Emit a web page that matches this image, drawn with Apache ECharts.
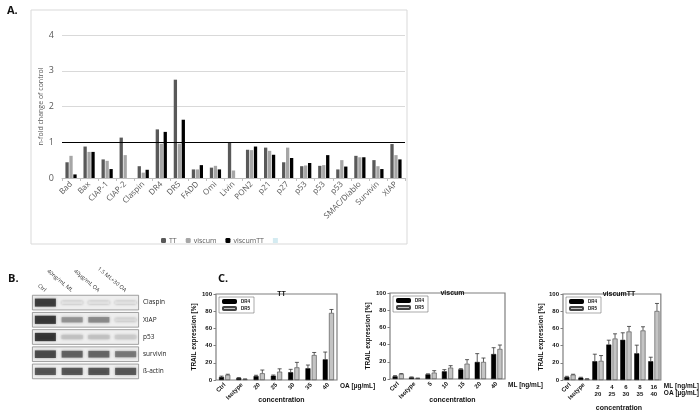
<!DOCTYPE html>
<html>
<head>
<meta charset="utf-8">
<script src="https://cdn.jsdelivr.net/npm/echarts@6/dist/echarts.min.js"></script>
<style>
  html, body { margin: 0; padding: 0; background: #fff; }
  #mychart { width: 700px; height: 410px; }
</style>
</head>
<body>
<div id="mychart"></div>
<script>
// A. n-fold change of control
const geneNames = ['Bad', 'Bax', 'CIAP-1', 'CIAP-2', 'Claspin', 'DR4', 'DR5', 'FADD', 'Omi', 'Livin',
  'PON2', 'p21', 'p27', 'p53', 'p53', 'p53', 'SMAC/Diablo', 'Survivin', 'XIAP'];
const foldTT = [0.44, 0.88, 0.52, 1.13, 0.33, 1.36, 2.75, 0.24, 0.29, 1.0,
  0.79, 0.85, 0.44, 0.33, 0.34, 0.24, 0.62, 0.50, 0.95];
const foldViscum = [0.62, 0.73, 0.48, 0.64, 0.15, 0.96, 0.96, 0.24, 0.34, 0.21,
  0.78, 0.76, 0.85, 0.35, 0.36, 0.50, 0.58, 0.33, 0.64];
const foldViscumTT = [0.10, 0.73, 0.25, 0, 0.23, 1.29, 1.63, 0.36, 0.24, 0,
  0.88, 0.65, 0.56, 0.42, 0.64, 0.32, 0.58, 0.25, 0.52];

// B. western blot (band darkness 0..1)
const blotLanes = ['Ctrl', '40ng/mL ML', '40µg/mL OA', '1.5 ML+30 OA'];
const blotProteins = ['Claspin', 'XIAP', 'p53', 'survivin', 'ß-actin'];
const blotDarkness = [
  [0.92, 0.03, 0.03, 0.03],
  [0.95, 0.45, 0.5, 0.08],
  [0.97, 0.2, 0.2, 0.15],
  [0.85, 0.72, 0.7, 0.6],
  [0.8, 0.8, 0.8, 0.78]
];

// C. TRAIL expression [%]
const ttLabels = ['Ctrl', 'Isotype', '20', '25', '30', '35', '40'];
const ttDR4 = [3.5, 2.3, 4.5, 5, 9, 13.6, 24];
const ttDR4Err = [1, 0.5, 1, 0.8, 3.4, 3.8, 8.5];
const ttDR5 = [6, 1, 7.8, 9.7, 14.7, 29, 78];
const ttDR5Err = [0.7, 0.3, 3.8, 3.3, 5.8, 3, 4];

const viscumLabels = ['Ctrl', 'Isotype', '5', '10', '15', '20', '40'];
const viscumDR4 = [3.1, 1.9, 5.4, 8.9, 11.2, 19.8, 29];
const viscumDR4Err = [0.8, 0.5, 0.6, 2, 0.8, 9.7, 7.4];
const viscumDR5 = [5.8, 0.8, 7.4, 13.2, 17.8, 19.8, 34.9];
const viscumDR5Err = [0.5, 0.3, 2.3, 2.3, 4.7, 4.6, 4.6];

const vttLabels = ['Ctrl', 'Isotype'];
const vttML = ['2', '4', '6', '8', '16'];
const vttOA = ['20', '25', '30', '35', '40'];
const vttDR4 = [3.5, 2.7, 21.8, 41.2, 46.7, 31, 21.8];
const vttDR4Err = [0.8, 0.5, 8.2, 5.1, 8.2, 9.5, 4.7];
const vttDR5 = [6.2, 1.2, 22.2, 48.2, 56.4, 57.6, 80.2];
const vttDR5Err = [0.5, 0.3, 6.2, 5.5, 5.9, 4.3, 8.8];

let myChart;

const colors = {
  tt: '#595959',
  viscum: '#a6a6a6',
  viscumTT: '#000000',
  gridLine: '#d9d9d9',
  text: '#595959',
  dr4: '#000000',
  dr5: '#c4c4c4',
  frame: '#7f7f7f'
};

const fontA = 'Open Sans, DejaVu Sans, sans-serif';
const fontC = 'Liberation Sans, Arial, sans-serif';

// 組成 C 區的三個圖 (grid 2..4)
const cPanels = [
  { title: 'TT', grid: { left: 216, top: 294, width: 121, height: 86 }, labels: ttLabels,
    dr4: ttDR4, dr4Err: ttDR4Err, dr5: ttDR5, dr5Err: ttDR5Err, unit: 'OA [µg/mL]', concTop: 392 },
  { title: 'viscum', grid: { left: 390, top: 293, width: 115, height: 86 }, labels: viscumLabels,
    dr4: viscumDR4, dr4Err: viscumDR4Err, dr5: viscumDR5, dr5Err: viscumDR5Err, unit: 'ML [ng/mL]', concTop: 392 },
  { title: 'viscumTT', grid: { left: 563, top: 294, width: 102, height: 86 },
    labels: vttLabels.concat(vttML.map(() => '')),
    labels2: vttLabels.map(() => '').concat(vttML.map((m, i) => m + '\n' + vttOA[i])),
    dr4: vttDR4, dr4Err: vttDR4Err, dr5: vttDR5, dr5Err: vttDR5Err, unit: 'ML [ng/mL]\nOA [µg/mL]', concTop: 400 }
];

const barW = 5;
const barGapPct = 0.25;
const barShift = (barW + barW * barGapPct) / 2;

function errorSeries(xi, yi, vals, errs, offset) {
  return {
    type: 'custom',
    xAxisIndex: xi,
    yAxisIndex: yi,
    silent: true,
    z: 5,
    data: vals.map((v, i) => [i, v, v + errs[i]]),
    renderItem: function (params, api) {
      const base = api.coord([api.value(0), api.value(1)]);
      const top = api.coord([api.value(0), api.value(2)]);
      const x = base[0] + offset;
      const st = { stroke: '#333', lineWidth: 0.8 };
      return {
        type: 'group',
        children: [
          { type: 'line', shape: { x1: x, y1: base[1], x2: x, y2: top[1] }, style: st },
          { type: 'line', shape: { x1: x - 2, y1: top[1], x2: x + 2, y2: top[1] }, style: st }
        ]
      };
    }
  };
}

function buildOption() {
  const grid = [
    { left: 62, top: 35, width: 343, height: 143 },          // A
    { left: 32, top: 294, width: 107, height: 86 }           // B
  ];
  const xAxis = [
    {
      gridIndex: 0, type: 'category', data: geneNames,
      axisLine: { lineStyle: { color: '#bfbfbf' } },
      axisTick: { show: true, length: 3, lineStyle: { color: '#bfbfbf' } },
      axisLabel: { rotate: 45, fontSize: 8, color: colors.text, fontFamily: fontA, margin: 5, interval: 0 }
    },
    {
      gridIndex: 1, type: 'category', data: blotLanes, position: 'top',
      axisLine: { show: false }, axisTick: { show: false },
      axisLabel: { rotate: 40, fontSize: 5.5, color: '#333', fontFamily: fontA, margin: 3, interval: 0 }
    },
    { gridIndex: 1, type: 'value', min: 0, max: 1, show: false }
  ];
  const yAxis = [
    {
      gridIndex: 0, type: 'value', min: 0, max: 4, interval: 1,
      name: 'n-fold change of control', nameLocation: 'middle', nameGap: 18,
      nameTextStyle: { fontSize: 7, color: colors.text, fontFamily: fontA },
      axisLine: { show: false }, axisTick: { show: false },
      axisLabel: { fontSize: 9, color: colors.text, fontFamily: fontA, margin: 8 },
      splitLine: { lineStyle: { color: colors.gridLine } }
    },
    {
      gridIndex: 1, type: 'category', data: blotProteins, inverse: true, position: 'right',
      axisLine: { show: false }, axisTick: { show: false },
      axisLabel: { fontSize: 6.5, color: '#222', fontFamily: fontA, margin: 4 }
    }
  ];

  const series = [
    {
      name: 'TT', type: 'bar', xAxisIndex: 0, yAxisIndex: 0, data: foldTT, color: colors.tt,
      barWidth: 3.3, barGap: '20%',
      markLine: {
        silent: true, symbol: 'none', label: { show: false },
        lineStyle: { color: '#000', width: 1, type: 'solid' },
        data: [{ yAxis: 1 }]
      }
    },
    { name: 'viscum', type: 'bar', xAxisIndex: 0, yAxisIndex: 0, data: foldViscum, color: colors.viscum, barWidth: 3.3, barGap: '20%' },
    { name: 'viscumTT', type: 'bar', xAxisIndex: 0, yAxisIndex: 0, data: foldViscumTT, color: colors.viscumTT, barWidth: 3.3, barGap: '20%' },
    { name: ' ', type: 'line', xAxisIndex: 0, yAxisIndex: 0, data: [], color: '#b7dde8' },
    // blot 外框
    {
      type: 'bar', xAxisIndex: 2, yAxisIndex: 1, silent: true, barWidth: 15.5,
      data: blotProteins.map(() => 1),
      itemStyle: { color: '#eeeeee', borderColor: '#8a8a8a', borderWidth: 0.8 }
    },
    // blot bands
    {
      type: 'scatter', xAxisIndex: 1, yAxisIndex: 1, silent: true, symbol: 'rect', z: 4,
      data: blotDarkness.flatMap((row, r) => row.map((d, l) => [l, r, d])),
      symbolSize: function (val) {
        return [21, 2.5 + val[2] * 6];
      },
      itemStyle: {
        color: function (p) {
          const g = Math.round(240 - p.value[2] * 225);
          return 'rgb(' + g + ',' + g + ',' + g + ')';
        },
        shadowBlur: 3,
        shadowColor: 'rgba(0,0,0,0.4)'
      }
    }
  ];

  const title = [];
  const legend = [
    {
      data: ['TT', 'viscum', 'viscumTT', { name: ' ', icon: 'rect', itemStyle: { opacity: 0.6 } }],
      left: 156, top: 232, itemWidth: 5, itemHeight: 5, itemGap: 9,
      textStyle: { fontSize: 7, color: colors.text, fontFamily: fontA, padding: [0, 0, 0, -2] }
    }
  ];

  cPanels.forEach((p, k) => {
    const gi = grid.length;
    grid.push(Object.assign({ show: true, borderColor: colors.frame, borderWidth: 1.2 }, p.grid));
    const xi = xAxis.length;
    const yi = yAxis.length;
    xAxis.push({
      gridIndex: gi, type: 'category', data: p.labels, position: 'bottom',
      name: p.unit, nameLocation: 'end', nameGap: 3,
      nameTextStyle: { fontSize: 6.5, fontWeight: 'bold', color: '#111', fontFamily: fontC,
        align: 'left', verticalAlign: 'top', lineHeight: 7, padding: [3, 0, 0, 0] },
      axisLine: { show: false }, axisTick: { show: false },
      axisLabel: { rotate: 45, fontSize: 6, fontWeight: 'bold', color: '#111', fontFamily: fontC, margin: 4, interval: 0 }
    });
    if (p.labels2) {
      xAxis.push({
        gridIndex: gi, type: 'category', data: p.labels2, position: 'bottom', offset: 0,
        axisLine: { show: false }, axisTick: { show: false },
        axisLabel: { rotate: 0, fontSize: 6, fontWeight: 'bold', color: '#111', fontFamily: fontC,
          margin: 4, interval: 0, lineHeight: 7 }
      });
    }
    yAxis.push({
      gridIndex: gi, type: 'value', min: 0, max: 100, interval: 20,
      name: 'TRAIL expression [%]', nameLocation: 'middle', nameGap: 17,
      nameTextStyle: { fontSize: 6.5, fontWeight: 'bold', color: '#111', fontFamily: fontC },
      axisLine: { show: false },
      axisTick: { show: true, length: 2.5, lineStyle: { color: colors.frame } },
      axisLabel: { fontSize: 6, fontWeight: 'bold', color: '#111', fontFamily: fontC, margin: 4 },
      splitLine: { show: false }
    });
    series.push(
      { name: 'DR4', type: 'bar', xAxisIndex: xi, yAxisIndex: yi, data: p.dr4, barWidth: barW,
        barGap: (barGapPct * 100) + '%', color: colors.dr4, itemStyle: { borderColor: '#000', borderWidth: 0.5 } },
      { name: 'DR5', type: 'bar', xAxisIndex: xi, yAxisIndex: yi, data: p.dr5, barWidth: barW,
        barGap: (barGapPct * 100) + '%', color: colors.dr5, itemStyle: { borderColor: '#444', borderWidth: 0.6 } },
      errorSeries(xi, yi, p.dr4, p.dr4Err, -barShift),
      errorSeries(xi, yi, p.dr5, p.dr5Err, barShift)
    );
    title.push(
      { text: p.title, left: p.grid.left + p.grid.width / 2, top: p.grid.top - 8, textAlign: 'center',
        textStyle: { fontSize: 7, fontWeight: 'bold', color: '#111', fontFamily: fontC } },
      { text: 'concentration', left: p.grid.left + p.grid.width / 2, top: p.concTop, textAlign: 'center',
        textStyle: { fontSize: 7, fontWeight: 'bold', color: '#111', fontFamily: fontC } }
    );
    legend.push({
      data: ['DR4', 'DR5'], orient: 'vertical', left: p.grid.left + 3, top: p.grid.top + 3,
      itemWidth: 13, itemHeight: 3, itemGap: 2, padding: [2, 4, 2, 3],
      borderColor: '#555', borderWidth: 0.5,
      textStyle: { fontSize: 4.5, fontWeight: 'bold', color: '#111', fontFamily: fontC }
    });
  });

  // 面板標題 A. B. C.
  title.push(
    { text: 'A.', left: 2, top: 0, textStyle: { fontSize: 11, fontWeight: 'bold', color: '#111', fontFamily: fontA } },
    { text: 'B.', left: 3, top: 268, textStyle: { fontSize: 11, fontWeight: 'bold', color: '#111', fontFamily: fontA } },
    { text: 'C.', left: 213, top: 268, textStyle: { fontSize: 11, fontWeight: 'bold', color: '#111', fontFamily: fontA } }
  );

  return {
    animation: false,
    backgroundColor: '#fff',
    title: title,
    legend: legend,
    grid: grid,
    xAxis: xAxis,
    yAxis: yAxis,
    series: series,
    graphic: [
      { type: 'rect', shape: { x: 31, y: 10, width: 376, height: 234 }, silent: true,
        style: { fill: 'none', stroke: '#d9d9d9', lineWidth: 1 } }
    ]
  };
}

function initChart() {
  myChart = echarts.init(document.getElementById('mychart'));
  myChart.setOption(buildOption());
}

initChart();
</script>
</body>
</html>
